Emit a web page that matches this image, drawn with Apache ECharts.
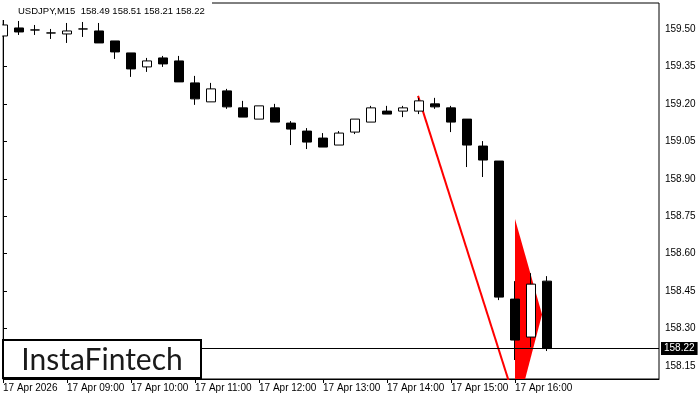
<!DOCTYPE html>
<html><head><meta charset="utf-8">
<script src="https://cdn.jsdelivr.net/npm/echarts@6/dist/echarts.min.js"></script>
<style>html,body{margin:0;padding:0;background:#fff}#c{width:700px;height:400px}</style>
</head><body><div id="c"></div>
<script>
const symbol = 'USDJPY,M15';
const times = ['08:00','08:15','08:30','08:45','09:00','09:15','09:30','09:45','10:00','10:15','10:30','10:45',
  '11:00','11:15','11:30','11:45','12:00','12:15','12:30','12:45','13:00','13:15','13:30','13:45',
  '14:00','14:15','14:30','14:45','15:00','15:15','15:30','15:45','16:00','16:15','16:30'];
const opens  = [159.472,159.504,159.496,159.484,159.480,159.500,159.492,159.452,159.404,159.348,159.384,159.372,
  159.284,159.208,159.252,159.184,159.139,159.184,159.123,159.091,159.063,159.035,159.087,159.127,
  159.171,159.171,159.171,159.200,159.184,159.139,159.031,158.971,158.418,158.266,158.49];
const highs  = [159.520,159.532,159.516,159.500,159.524,159.528,159.524,159.452,159.404,159.384,159.392,159.392,
  159.312,159.284,159.260,159.212,159.192,159.200,159.131,159.103,159.083,159.091,159.139,159.192,
  159.192,159.192,159.224,159.224,159.192,159.139,159.051,158.971,158.490,158.522,158.51];
const lows   = [159.468,159.476,159.476,159.460,159.444,159.468,159.444,159.380,159.308,159.328,159.348,159.288,
  159.196,159.208,159.180,159.147,159.139,159.127,159.035,159.019,159.027,159.035,159.079,159.127,
  159.159,159.147,159.159,159.180,159.087,158.947,158.907,158.414,158.174,158.226,158.21];
const closes = [159.516,159.488,159.496,159.484,159.492,159.500,159.444,159.408,159.340,159.372,159.360,159.288,
  159.220,159.260,159.188,159.147,159.192,159.127,159.099,159.047,159.027,159.083,159.139,159.184,
  159.159,159.184,159.212,159.188,159.127,159.035,158.975,158.426,158.254,158.478,158.22];
const tickLabels = ['17 Apr 2026','17 Apr 09:00','17 Apr 10:00','17 Apr 11:00','17 Apr 12:00',
  '17 Apr 13:00','17 Apr 14:00','17 Apr 15:00','17 Apr 16:00'];
const priceTicks = [158.15,158.30,158.45,158.60,158.75,158.90,159.05,159.20,159.35,159.50];
const lastPrice = 158.22;
const flagpoleX = [25.94, 31.9];
const flagpoleY = [159.232, 158.031];
const pennantX = [32, 33.69, 32];
const pennantY = [158.739, 158.356, 157.943];
const emptySlots = 7;
const logoText = 'InstaFintech';

const slots = times.concat(new Array(emptySlots).fill(''));
const FONT = 'Liberation Sans';
const showTick = (i) => i % 4 === 0 && i / 4 < tickLabels.length;

const chart = echarts.init(document.getElementById('c'), null, {renderer: 'canvas'});
chart.setOption({
  animation: false,
  backgroundColor: '#fff',
  grid: {left: 3, right: 41, top: 3, bottom: 21, show: true, borderColor: '#000', borderWidth: 1, backgroundColor: 'transparent'},
  xAxis: [{
    type: 'category', data: slots, boundaryGap: false,
    axisLine: {show: true, lineStyle: {color: '#000', width: 1}},
    axisTick: {show: true, interval: showTick, length: 4, lineStyle: {color: '#000'}},
    axisLabel: {interval: showTick, formatter: (v, i) => tickLabels[i / 4] || '', align: 'left',
      color: '#000', fontSize: 10, fontFamily: FONT, margin: 4},
    splitLine: {show: false}
  }, {
    type: 'value', min: 0, max: slots.length - 1, show: false
  }],
  yAxis: {
    type: 'value', position: 'right', min: 158.098, max: 159.604, scale: true,
    splitLine: {show: false},
    axisLine: {show: true, lineStyle: {color: '#000'}},
    axisTick: {show: true, customValues: priceTicks, length: 4, lineStyle: {color: '#000'}},
    axisLabel: {customValues: priceTicks, formatter: v => v.toFixed(2), color: '#000', fontSize: 10, fontFamily: FONT, margin: 6}
  },
  series: [{
    type: 'custom', xAxisIndex: 1, z: 1, silent: true,
    data: [[pennantX[0], pennantY[0]]],
    renderItem: (params, api) => ({
      type: 'polygon',
      shape: {points: pennantX.map((x, k) => api.coord([x, pennantY[k]]))},
      style: {fill: '#ff0000'},
      clipPath: {type: 'rect', shape: {x: params.coordSys.x, y: params.coordSys.y, width: params.coordSys.width, height: params.coordSys.height}}
    })
  }, {
    type: 'line', xAxisIndex: 1, z: 2, silent: true, symbol: 'none', clip: true,
    data: flagpoleX.map((x, k) => [x, flagpoleY[k]]),
    lineStyle: {color: '#ff0000', width: 2}
  }, {
    type: 'candlestick', xAxisIndex: 0, z: 3, silent: true, clip: true,
    barWidth: 10,
    data: times.map((t, i) => [opens[i], closes[i], lows[i], highs[i]]),
    itemStyle: {color: '#fff', color0: '#000', borderColor: '#000', borderColor0: '#000', borderWidth: 1},
    markLine: {
      silent: true, symbol: ['none', 'none'], animation: false,
      lineStyle: {color: '#000', width: 1, type: 'solid'},
      label: {show: true, position: 'end', formatter: () => lastPrice.toFixed(2), color: '#fff',
        backgroundColor: '#000', padding: [2, 3, 1, 3], fontSize: 10, fontFamily: FONT, distance: 2},
      data: [{yAxis: lastPrice}]
    }
  }],
  graphic: [
    {type: 'rect', z: 50, shape: {x: 0, y: 0, width: 2.4, height: 400}, style: {fill: '#fff'}},
    {type: 'rect', z: 50, shape: {x: 0, y: 0, width: 212, height: 20}, style: {fill: '#fff'}},
    {type: 'text', z: 51, x: 18, y: 11, style: {text: symbol + '  ' + [opens[34], highs[34], lows[34], closes[34]].map(v => v.toFixed(2)).join(' '),
      fill: '#000', fontSize: 9.5, fontFamily: FONT, verticalAlign: 'middle'}},
    {type: 'rect', z: 100, shape: {x: 3, y: 340, width: 198, height: 38}, style: {fill: '#fff', stroke: '#000', lineWidth: 2}},
    {type: 'text', z: 101, x: 102, y: 360, style: {text: logoText, fill: '#1a1a1a', fontSize: 30, fontFamily: 'Lato',
      align: 'center', verticalAlign: 'middle'}}
  ]
});
</script></body></html>
